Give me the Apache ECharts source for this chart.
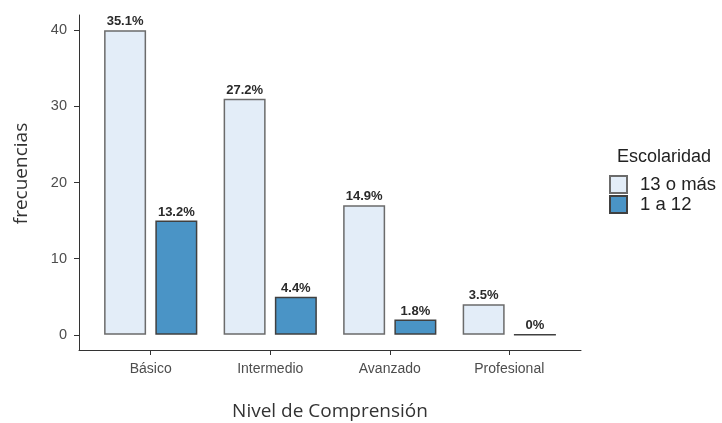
<!DOCTYPE html>
<html>
<head>
<meta charset="utf-8">
<script src="https://cdn.jsdelivr.net/npm/echarts@6/dist/echarts.min.js"></script>
<style>
html,body{margin:0;padding:0;background:#fff;}
#chart{width:722px;height:423px;}
</style>
</head>
<body>
<div id="chart"></div>
<script>
const categories = ['Básico', 'Intermedio', 'Avanzado', 'Profesional'];
const seriesNames = ['13 o más', '1 a 12'];
const values13omas = [40, 31, 17, 4];
const values1a12 = [15, 5, 2, 0];
const labels13omas = ['35.1%', '27.2%', '14.9%', '3.5%'];
const labels1a12 = ['13.2%', '4.4%', '1.8%', '0%'];
const yTicks = [0, 10, 20, 30, 40];
const xPositions = [1, 2, 3, 4];

const chart = echarts.init(document.getElementById('chart'), null, {renderer: 'canvas'});

function mk(vals, labs) {
  return vals.map((v, i) => ({value: [xPositions[i], v], lab: labs[i]}));
}

const labelStyle = {
  show: true, position: 'top', distance: 2,
  fontFamily: 'Liberation Sans', fontSize: 13, fontWeight: 'bold', color: '#2a2a2a',
  formatter: p => p.data.lab
};

chart.setOption({
  animation: false,
  title: {
    text: 'Escolaridad', left: 612, top: 143,
    textStyle: {fontFamily: 'Liberation Sans', fontSize: 18, fontWeight: 'normal', color: '#222'}
  },
  legend: {
    orient: 'vertical', left: 604, top: 170, itemWidth: 17, itemHeight: 17, itemGap: 1,
    icon: 'rect',
    textStyle: {fontFamily: 'Liberation Sans', fontSize: 18.5, lineHeight: 17, color: '#222', padding: [0,0,0,8]},
    data: seriesNames
  },
  grid: {left: 79, right: 141, top: 15, bottom: 73, containLabel: false, outerBoundsMode: 'none'},
  xAxis: {
    type: 'value', min: 0.4, max: 4.6,
    name: 'Nivel de Comprensión', nameLocation: 'middle', nameGap: 52,
    nameTextStyle: {fontFamily: 'Open Sans', fontSize: 19, color: '#333'},
    axisLine: {show: true, onZero: false, lineStyle: {color: '#333', width: 1}},
    axisTick: {show: true, length: 5, lineStyle: {color: '#333'}, customValues: xPositions},
    axisLabel: {
      customValues: xPositions, margin: 12,
      fontFamily: 'Liberation Sans', fontSize: 14, color: '#4d4d4d',
      formatter: v => categories[Math.round(v) - 1] || ''
    },
    splitLine: {show: false}
  },
  yAxis: {
    type: 'value', min: -2, max: 42,
    name: 'frecuencias', nameLocation: 'middle', nameGap: 48,
    nameTextStyle: {fontFamily: 'Open Sans', fontSize: 19, color: '#333', padding: [0, 0, 0, 18]},
    axisLine: {show: true, onZero: false, lineStyle: {color: '#333', width: 1}},
    axisTick: {show: true, length: 5, lineStyle: {color: '#333'}, customValues: yTicks},
    axisLabel: {
      customValues: yTicks, margin: 12,
      fontFamily: 'Liberation Sans', fontSize: 14.5, color: '#4d4d4d'
    },
    splitLine: {show: false}
  },
  series: [
    {
      name: seriesNames[0], type: 'bar', barWidth: 42, barGap: '22%',
      itemStyle: {color: '#e3edf8', borderColor: '#6b6b6b', borderWidth: 1.5},
      label: labelStyle,
      data: mk(values13omas, labels13omas)
    },
    {
      name: seriesNames[1], type: 'bar', barWidth: 42, barGap: '22%',
      itemStyle: {color: '#4a94c6', borderColor: '#404040', borderWidth: 1.5},
      label: labelStyle,
      data: mk(values1a12, labels1a12)
    }
  ]
});
</script>
</body>
</html>
